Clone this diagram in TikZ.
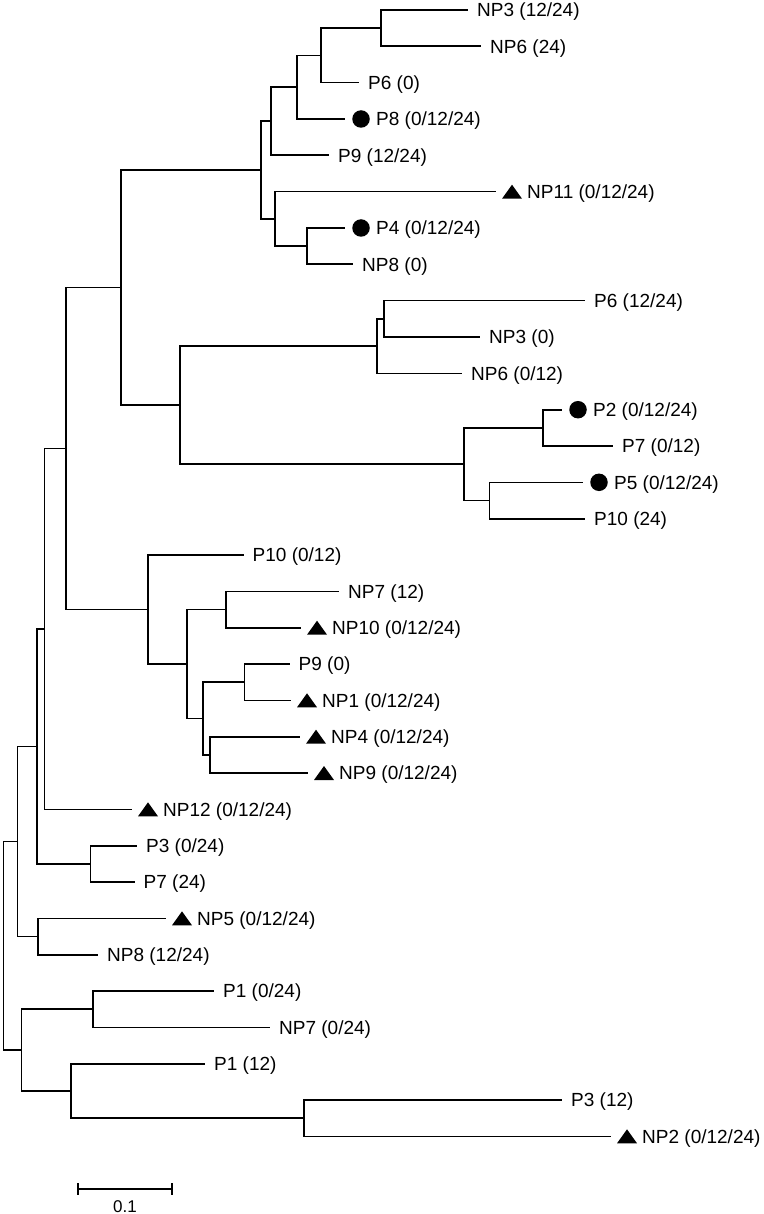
\documentclass[tikz,border=0pt]{standalone}
\usepackage{fontspec}
\setmainfont{Liberation Sans}
\newcommand\tleaf[4]{\coordinate (#1) at (#2,#3); \node[lab] (#1-t) at (#2+9,#3+6.8) {#4};}
\newcommand\tleafdot[4]{\coordinate (#1) at (#2,#3); \node[dotmark] (#1-m) at (#2+16,#3) {}; \node[lab] (#1-t) at (#2+31,#3+6.8) {#4};}
\newcommand\tleaftri[4]{\coordinate (#1) at (#2,#3); \coordinate (#1-m) at (#2+16,#3); \fill (#2+6,#3+7) -- (#2+26,#3+7) -- (#2+16,#3-7) -- cycle; \node[lab] (#1-t) at (#2+31,#3+6.8) {#4};}
\begin{document}
\begin{tikzpicture}[x=1pt,y=-1pt,
  br/.style={line width=1.6pt},
  lab/.style={anchor=base west, inner sep=0pt, font=\fontsize{19}{19}\selectfont},
  dotmark/.style={circle, fill=black, inner sep=0pt, minimum size=17.5pt}]
\useasboundingbox (0,0) rectangle (763,1214);
% leaves
\tleaf{NP3a}{468}{10}{NP3 (12/24)}
\tleaf{NP6a}{481}{46.3}{NP6 (24)}
\tleaf{P6a}{359}{82.7}{P6 (0)}
\tleafdot{P8}{345}{119}{P8 (0/12/24)}
\tleaf{P9a}{329}{155.3}{P9 (12/24)}
\tleaftri{NP11}{496}{191.7}{NP11 (0/12/24)}
\tleafdot{P4}{345}{228}{P4 (0/12/24)}
\tleaf{NP8a}{353}{264.3}{NP8 (0)}
\tleaf{P6b}{585}{300.7}{P6 (12/24)}
\tleaf{NP3b}{480}{337}{NP3 (0)}
\tleaf{NP6b}{462}{373.3}{NP6 (0/12)}
\tleafdot{P2}{562}{409.7}{P2 (0/12/24)}
\tleaf{P7a}{613}{446}{P7 (0/12)}
\tleafdot{P5}{583}{482.3}{P5 (0/12/24)}
\tleaf{P10a}{585}{518.7}{P10 (24)}
\tleaf{P10b}{243.5}{555}{P10 (0/12)}
\tleaf{NP7a}{339}{591.3}{NP7 (12)}
\tleaftri{NP10}{301}{627.7}{NP10 (0/12/24)}
\tleaf{P9b}{289.5}{664}{P9 (0)}
\tleaftri{NP1}{291}{700.3}{NP1 (0/12/24)}
\tleaftri{NP4}{300}{736.7}{NP4 (0/12/24)}
\tleaftri{NP9}{308}{773}{NP9 (0/12/24)}
\tleaftri{NP12}{132}{809.3}{NP12 (0/12/24)}
\tleaf{P3a}{137}{845.7}{P3 (0/24)}
\tleaf{P7b}{134.5}{882}{P7 (24)}
\tleaftri{NP5}{166}{918.3}{NP5 (0/12/24)}
\tleaf{NP8b}{98}{954.7}{NP8 (12/24)}
\tleaf{P1a}{214}{991}{P1 (0/24)}
\tleaf{NP7b}{270}{1027.3}{NP7 (0/24)}
\tleaf{P1b}{205}{1063.7}{P1 (12)}
\tleaf{P3b}{562}{1100}{P3 (12)}
\tleaftri{NP2}{611}{1136.3}{NP2 (0/12/24)}
% internal nodes
\coordinate (na) at (381,28.2);
\coordinate (nb) at (321,55.4);
\coordinate (nc) at (297,87.2);
\coordinate (nd) at (271,121.3);
\coordinate (ne) at (307,246.2);
\coordinate (nf) at (275,218.9);
\coordinate (ng) at (261,170.1);
\coordinate (nh) at (384,318.8);
\coordinate (ni) at (377,346);
\coordinate (nj) at (543,427.8);
\coordinate (nk) at (489.5,500.5);
\coordinate (nl) at (464,464.2);
\coordinate (nm) at (180,405.1);
\coordinate (nn) at (121,287.6);
\coordinate (no) at (226,609.5);
\coordinate (np) at (244.5,682.2);
\coordinate (nq) at (210,754.8);
\coordinate (nr) at (203,718.5);
\coordinate (ns) at (187,664);
\coordinate (nt) at (148,609.5);
\coordinate (nu) at (66,448.6);
\coordinate (nv) at (44.5,629);
\coordinate (nw) at (90.5,863.8);
\coordinate (nx) at (37,746.4);
\coordinate (ny) at (38,936.5);
\coordinate (nz) at (17.6,841.5);
\coordinate (naa) at (93,1009.2);
\coordinate (nbb) at (304,1118.2);
\coordinate (ncc) at (71,1091);
\coordinate (ndd) at (21.5,1050.1);
\coordinate (root) at (3.4,945.8);
% branches
\foreach \p/\c in {na/NP3a, na/NP6a, nb/na, nb/P6a, nc/nb, nc/P8, nd/nc, nd/P9a,
  ne/P4, ne/NP8a, nf/NP11, nf/ne, ng/nd, ng/nf, nh/P6b, nh/NP3b, ni/nh, ni/NP6b,
  nj/P2, nj/P7a, nk/P5, nk/P10a, nl/nj, nl/nk, nm/ni, nm/nl, nn/ng, nn/nm,
  no/NP7a, no/NP10, np/P9b, np/NP1, nq/NP4, nq/NP9, nr/np, nr/nq, ns/no, ns/nr,
  nt/P10b, nt/ns, nu/nn, nu/nt, nv/nu, nv/NP12, nw/P3a, nw/P7b, nx/nv, nx/nw,
  ny/NP5, ny/NP8b, nz/nx, nz/ny, naa/P1a, naa/NP7b, nbb/P3b, nbb/NP2,
  ncc/P1b, ncc/nbb, ndd/naa, ndd/ncc, root/nz, root/ndd}
  \draw[br] (\p) |- (\c);
% scale bar
\coordinate (sb1) at (78,1189);
\coordinate (sb2) at (172,1189);
\draw[br] (sb1) -- (sb2);
\draw[br] (78,1183) -- (78,1195);
\draw[br] (172,1183) -- (172,1195);
\node[anchor=base, inner sep=0pt, font=\fontsize{17}{17}\selectfont] (sbl) at (125,1212.5) {0.1};
\end{tikzpicture}
\end{document}
